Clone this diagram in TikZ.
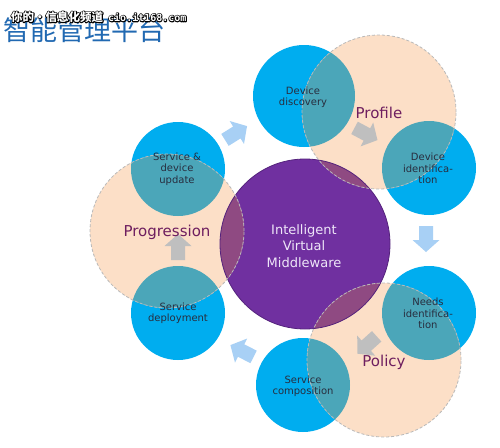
\documentclass[tikz,border=0pt]{standalone}
\usepackage{fontspec}
\setmainfont{DejaVu Sans}
\newfontfamily\cjk{Noto Sans CJK SC}
\newfontfamily\wmmono{DejaVu Sans Mono}
\definecolor{cblue}{RGB}{0,173,239}
\definecolor{cteal}{RGB}{75,166,185}
\definecolor{cpeach}{RGB}{252,223,199}
\definecolor{cpurple}{RGB}{112,48,160}
\definecolor{cpurpleb}{RGB}{84,34,124}
\definecolor{cmauve}{RGB}{143,74,130}
\definecolor{cplum}{RGB}{110,30,95}
\definecolor{carrowb}{RGB}{168,208,245}
\definecolor{cgray}{RGB}{191,191,191}
\definecolor{cdash}{RGB}{185,185,185}
\definecolor{ctitle}{RGB}{33,105,178}
\definecolor{ctext}{RGB}{40,45,62}
\definecolor{ccenter}{RGB}{238,230,248}
\tikzset{
  bluec/.style={circle, fill=cblue, inner sep=0pt, minimum size=94pt},
  peachc/.style={circle, fill=cpeach, inner sep=0pt, minimum size=154pt},
  peachborder/.style={draw=cdash, line width=0.8pt, dash pattern=on 3pt off 2pt},
  smalltxt/.style={font=\fontsize{10}{11.3}\selectfont, text=ctext, align=center, inner sep=0pt},
  bigtxt/.style={font=\fontsize{15}{18}\selectfont, text=cplum, inner sep=0pt},
  centertxt/.style={font=\fontsize{13}{16.5}\selectfont, text=ccenter, align=center, inner sep=0pt},
  wm/.style={font=\fontsize{11.5}{12}\selectfont, anchor=west, inner sep=0pt}
}
\newcommand{\lbarrow}[3]{%
  \fill[#3, shift={#1}, rotate=#2] (-13pt,-7pt) -- (1pt,-7pt) -- (1pt,-13.5pt) -- (13pt,0pt) -- (1pt,13.5pt) -- (1pt,7pt) -- (-13pt,7pt) -- cycle;}
\newcommand{\wmtext}{{\cjk\bfseries 你的·信息化频道}\hspace{5pt}{\wmmono\bfseries\fontsize{10}{12}\selectfont cio.it168.com}}
\begin{document}
\begin{tikzpicture}[x=1pt,y=-1pt]
\useasboundingbox (0,0) rectangle (500,447);
\fill[white] (0,0) rectangle (500,447);
% blue circles
\node[bluec, minimum size=102pt] (dd) at (304,96) {};
\node[bluec] (di) at (429,168) {};
\node[bluec] (ni) at (429,313) {};
\node[bluec] (sc) at (303,385) {};
\node[bluec] (sdp) at (178,313) {};
\node[bluec] (sdu) at (178,169) {};
% center
\node[circle, fill=cpurple, inner sep=0pt, minimum size=170pt] (ivm) at (305,244) {};
% peach circles
\node[peachc] (pf) at (379,112) {};
\node[peachc] (pl) at (384,360) {};
\node[peachc] (pg) at (167,231) {};
% overlaps
\begin{scope}
  \clip (pf.center) circle[radius=77pt];
  \fill[cteal] (dd.center) circle[radius=51pt];
  \fill[cteal] (di.center) circle[radius=47pt];
  \fill[cmauve] (ivm.center) circle[radius=85pt];
\end{scope}
\begin{scope}
  \clip (pl.center) circle[radius=77pt];
  \fill[cteal] (ni.center) circle[radius=47pt];
  \fill[cteal] (sc.center) circle[radius=47pt];
  \fill[cmauve] (ivm.center) circle[radius=85pt];
\end{scope}
\begin{scope}
  \clip (pg.center) circle[radius=77pt];
  \fill[cteal] (sdu.center) circle[radius=47pt];
  \fill[cteal] (sdp.center) circle[radius=47pt];
  \fill[cmauve] (ivm.center) circle[radius=85pt];
\end{scope}
\draw[cpurpleb, line width=0.8pt] (ivm.center) circle[radius=85pt];
\draw[peachborder] (pf.center) circle[radius=77pt];
\draw[peachborder] (pl.center) circle[radius=77pt];
\draw[peachborder] (pg.center) circle[radius=77pt];
% arrows between stages
\lbarrow{(236,133)}{32}{carrowb}
\lbarrow{(426,239)}{-90}{carrowb}
\lbarrow{(242,351)}{153}{carrowb}
% arrows inside phases
\lbarrow{(366,134)}{-28}{cgray}
\lbarrow{(367,345)}{222}{cgray}
\lbarrow{(178,247)}{90}{cgray}
% texts
\node[smalltxt] (tdd) at (303,97) {Device\\discovery};
\node[smalltxt] (tdi) at (428,168.5) {Device\\identifica-\\tion};
\node[smalltxt] (tni) at (428,313.5) {Needs\\identifica-\\tion};
\node[smalltxt] (tsc) at (303,386.5) {Service\\composition};
\node[smalltxt] (tsdp) at (178,313.5) {Service\\deployment};
\node[smalltxt] (tsdu) at (177,169) {Service \&\\device\\update};
\node[bigtxt] (tpf) at (379,113) {Profile};
\node[bigtxt] (tpl) at (384,362) {Policy};
\node[bigtxt] (tpg) at (167,232) {Progression};
\node[centertxt] (tivm) at (304,246) {Intelligent\\Virtual\\Middleware};
% title
\node[anchor=west, font=\cjk\fontsize{27}{27}\selectfont, text=ctitle, inner sep=0pt] (title) at (3,30) {智能管理平台};
% watermark: black outline stroked first, white fill on top
\node[wm, text=white] (wm) at (11,17) {\special{pdf:literal 1 Tr 1.8 w 1 J 1 j 0 0 0 RG}\rlap{\wmtext}\special{pdf:literal 0 Tr}\wmtext};
\end{tikzpicture}
\end{document}
